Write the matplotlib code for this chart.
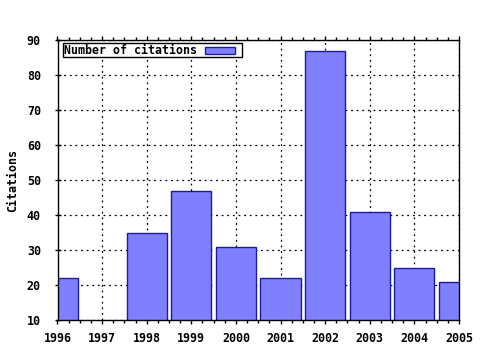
import matplotlib
matplotlib.use("Agg")
import matplotlib.pyplot as plt
from matplotlib.patches import Rectangle
from matplotlib.ticker import MultipleLocator

years = [1996, 1997, 1998, 1999, 2000, 2001, 2002, 2003, 2004, 2005]
citations = [22, 0, 35, 47, 31, 22, 87, 41, 25, 21]
ytick_vals = [10, 20, 30, 40, 50, 60, 70, 80, 90]
legend_label = 'Number of citations'

plt.rcParams['font.family'] = ['DejaVu Sans Mono']
plt.rcParams['font.weight'] = 'bold'
plt.rcParams['font.size'] = 8.4

W, H = 480, 350
fig = plt.figure(figsize=(4.8, 3.5), dpi=100)
ax = fig.add_axes([57.5/W, 30/H, (459-57.5)/W, 280/H])

fill = '#8080ff'
edge = '#1a1aa0'
ax.bar(years, citations, width=0.9, bottom=0, color=fill,
       edgecolor=edge, linewidth=1.0, zorder=2)

ax.set_xlim(1996, 2005)
ax.set_ylim(10, 90)
ax.set_xticks(years)
ax.set_xticklabels([str(y) for y in years], fontweight='bold')
ax.set_yticks(ytick_vals)
ax.set_yticklabels([str(v) for v in ytick_vals], fontweight='bold')
ax.xaxis.set_minor_locator(MultipleLocator(0.25))
ax.tick_params(axis='x', which='major', direction='out', length=3, width=1,
               top=True, pad=6)
ax.tick_params(axis='x', which='minor', direction='out', length=2, width=1,
               top=True)
ax.tick_params(axis='y', which='major', direction='inout', length=4, width=1,
               right=False, pad=10)

ax.grid(True, which='major', color='black', linestyle=(0, (1.5, 3)),
        linewidth=0.9, zorder=1)
ax.set_axisbelow(True)
for s in ax.spines.values():
    s.set_linewidth(1.0)
    s.set_zorder(3)

ax.set_ylabel('Citations', fontweight='bold')
ax.yaxis.set_label_coords((19.5 - 57.5) / 401.5, 0.5)

# legend box drawn in figure pixel space
def fx(px):
    return px / W

def fy(py):
    return (H - py) / H

fig.patches.append(Rectangle((fx(63), fy(57)), fx(242) - fx(63), fy(43) - fy(57),
                             transform=fig.transFigure, facecolor='white',
                             edgecolor='black', linewidth=1.0, zorder=5))
fig.text(fx(64), fy(50.5), legend_label, ha='left', va='center',
         fontweight='bold', zorder=6)
fig.patches.append(Rectangle((fx(205), fy(53.5)), fx(235) - fx(205), fy(46.5) - fy(53.5),
                             transform=fig.transFigure, facecolor=fill,
                             edgecolor=edge, linewidth=1.0, zorder=6))

fig.savefig('out.png', dpi=100)
